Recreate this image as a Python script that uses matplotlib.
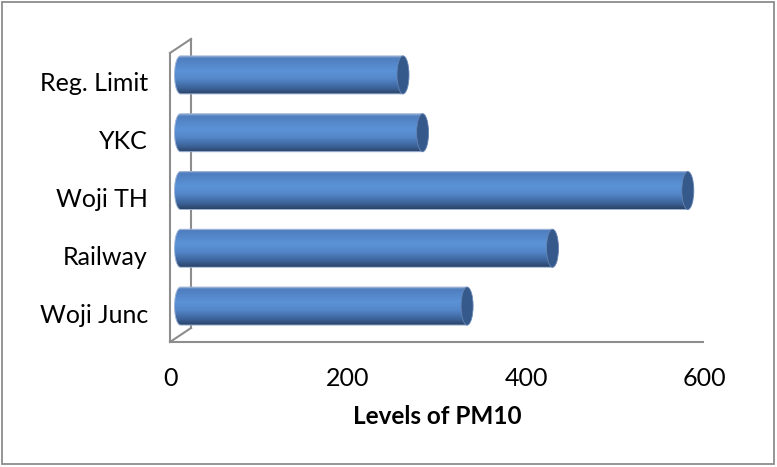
import numpy as np
import matplotlib.pyplot as plt
from matplotlib.patches import Ellipse, PathPatch, Rectangle
from matplotlib.path import Path
from matplotlib.colors import LinearSegmentedColormap

sites = ['Woji Junc', 'Railway', 'Woji TH', 'YKC', 'Reg. Limit']
pm10 = [322, 418, 570, 272, 250]
xticks = [0, 200, 400, 600]

plt.rcParams['font.family'] = ['Lato', 'DejaVu Sans']

W, H = 777, 467
fig = plt.figure(figsize=(W / 100, H / 100), dpi=100)
ax = fig.add_axes([170 / W, 125 / H, 534 / W, 289 / H])
ax.set_facecolor('none')
for s in ax.spines.values():
    s.set_visible(False)

# pixel -> data conversion for the 3-D depth offsets
sx = 534 / 600.0
sy = 289 / 5.0
depth_x, depth_y = 21 / sx, 14 / sy

grey = '#8d8d8d'
lw = 1.5
# front floor edge and front wall edge
ax.plot([0, 600], [-0.5, -0.5], color=grey, lw=lw, clip_on=False, solid_capstyle='butt')
ax.plot([0, 0], [-0.5, 4.5], color=grey, lw=lw, clip_on=False)
# back wall edge and connecting diagonals
ax.plot([depth_x, depth_x], [-0.5 + depth_y, 4.5 + depth_y], color=grey, lw=lw, clip_on=False, zorder=1)
ax.plot([0, depth_x], [4.5, 4.5 + depth_y], color=grey, lw=lw, clip_on=False)
ax.plot([0, depth_x], [-0.5, -0.5 + depth_y], color=grey, lw=lw, clip_on=False)

# cylinders sit half way into the depth
mx, my = depth_x / 2, depth_y / 2
bar_h = 38 / sy
cap_a = 6 / sx

cyl = LinearSegmentedColormap.from_list('cyl', [
    (0.00, '#8aa6cf'),
    (0.06, '#4f7ebf'),
    (0.40, '#5b93d7'),
    (0.60, '#5487ca'),
    (0.85, '#3c6298'),
    (1.00, '#2a4365'),
])
grad = np.linspace(0, 1, 256).reshape(-1, 1)

for i, v in enumerate(pm10):
    yc = i + my
    x0, x1 = mx, mx + v
    top, bot = yc + bar_h / 2, yc - bar_h / 2
    t = np.linspace(1.5 * np.pi, 0.5 * np.pi, 40)
    arc = np.column_stack([x0 + cap_a * np.cos(t), yc + bar_h / 2 * np.sin(t)])
    verts = np.vstack([[[x0, top], [x1, top], [x1, bot], [x0, bot]], arc, [[x0, top]]])
    codes = [Path.MOVETO] + [Path.LINETO] * (len(verts) - 2) + [Path.CLOSEPOLY]
    body = PathPatch(Path(verts, codes), facecolor='none', edgecolor='#9db3d6',
                     lw=0.7, zorder=3.1)
    ax.add_patch(body)
    im = ax.imshow(grad, cmap=cyl, extent=[x0 - cap_a, x1, bot, top], origin='upper',
                   aspect='auto', interpolation='bilinear', zorder=3)
    im.set_clip_path(body)
    ax.add_patch(Ellipse((x1, yc), 2 * cap_a, bar_h, facecolor='#35598a',
                         edgecolor='#6584b3', lw=0.6, zorder=4))

ax.set_xlim(0, 600)
ax.set_ylim(-0.5, 4.5)
ax.set_yticks(range(len(sites)))
ax.set_yticklabels(sites, fontsize=18)
ax.set_xticks(xticks)
ax.set_xticklabels([str(x) for x in xticks], fontsize=18)
ax.tick_params(axis='y', length=0, pad=16)
ax.tick_params(axis='x', length=0, pad=18)
ax.set_xlabel('Levels of PM10', fontsize=17.5, fontweight='bold', labelpad=11)

fig.patches.append(Rectangle((2 / W, 3 / H), 772 / W, 462 / H, transform=fig.transFigure,
                             fill=False, edgecolor='#8c8c8c', lw=1.3))

fig.savefig('out.png', dpi=100)
